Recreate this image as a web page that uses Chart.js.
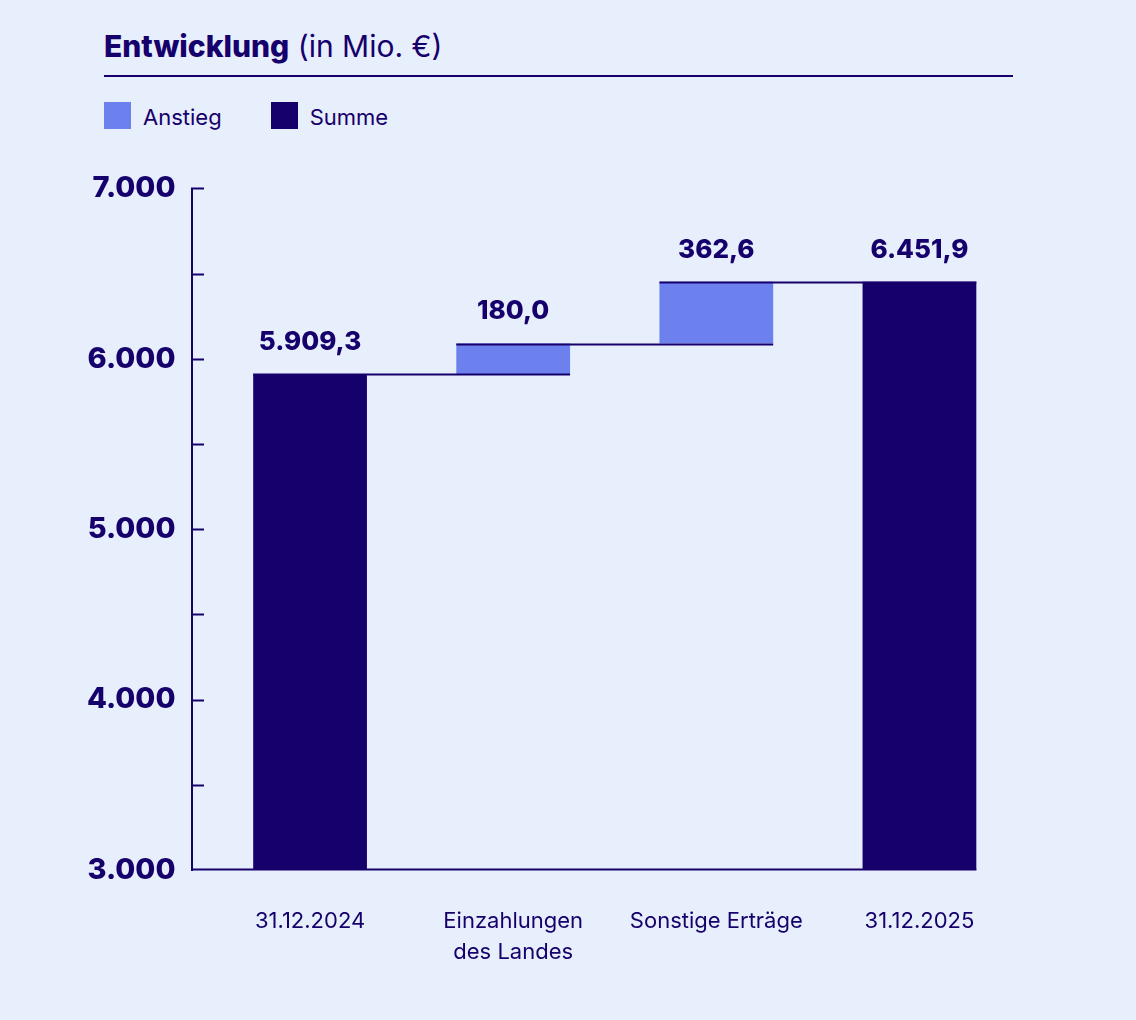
<!DOCTYPE html>
<html lang="de">
<head>
<meta charset="utf-8">
<title>Entwicklung (in Mio. €)</title>
<script src="https://cdn.jsdelivr.net/npm/chart.js@4.4.1/dist/chart.umd.min.js"></script>
<style>
  html, body { margin: 0; padding: 0; }
  body {
    width: 1136px; height: 1020px; overflow: hidden; position: relative;
    background: #e7eefc; color: #16006b;
    font-family: Inter, "Noto Sans", sans-serif;
  }
  #title { position: absolute; left: 104px; top: 31px; font-size: 30px; line-height: 30px; white-space: nowrap; }
  #title b { font-weight: 800; }
  #rule { position: absolute; left: 104px; top: 75px; width: 909px; height: 2px; background: #16006b; }
  #legend { position: absolute; left: 104px; top: 102px; display: flex; }
  .item { display: flex; align-items: center; margin-right: 49px; font-size: 22px; line-height: 27px; }
  .item span.txt { position: relative; top: 2px; }
  .box { width: 27px; height: 27px; margin-right: 12px; }
  #chart { position: absolute; left: 0; top: 138px; }
</style>
</head>
<body>
<div id="title"><b>Entwicklung</b> (in Mio. €)</div>
<div id="rule"></div>
<div id="legend"></div>
<canvas id="chart" width="1136" height="882"></canvas>
<script>
// data
var categories = ['31.12.2024', ['Einzahlungen', 'des Landes'], 'Sonstige Erträge', '31.12.2025'];
var stepValues = [5909.3, 180.0, 362.6, 6451.9];
var stepKinds = ['Summe', 'Anstieg', 'Anstieg', 'Summe'];
var seriesNames = ['Anstieg', 'Summe'];
var seriesColors = ['#6c81ee', '#16006b'];
var yMin = 3000, yMax = 7000, yStep = 500;

var NAVY = '#16006b';

// floating bars for increases, plain bars for totals
var running = 0;
var anstiegData = [], summeData = [];
stepValues.forEach(function (v, i) {
    if (stepKinds[i] === 'Summe') {
        running = v;
        summeData.push(v);
        anstiegData.push(null);
    } else {
        anstiegData.push([running, running + v]);
        running = running + v;
        summeData.push(null);
    }
});

function fmt(v, dec) {
    return v.toLocaleString('de-DE', { minimumFractionDigits: dec, maximumFractionDigits: dec });
}

// legend from the series
var legendEl = document.getElementById('legend');
seriesNames.forEach(function (name, i) {
    var it = document.createElement('div');
    it.className = 'item';
    it.innerHTML = '<span class="box" style="background:' + seriesColors[i] + '"></span><span class="txt">' + name + '</span>';
    legendEl.appendChild(it);
});

// axis lines, inner ticks, connectors and value labels
var waterfallDeco = {
    id: 'waterfallDeco',
    afterDatasetsDraw: function (chart) {
        var ctx = chart.ctx;
        var y = chart.scales.y;
        var area = chart.chartArea;
        var axisX = area.left - 16.5;

        // bar geometry per index
        var bars = [];
        chart.data.datasets.forEach(function (ds, di) {
            chart.getDatasetMeta(di).data.forEach(function (el, i) {
                if (ds.data[i] === null) return;
                var p = el.getProps(['x', 'y', 'base', 'width'], true);
                bars[i] = { left: p.x - p.width / 2, right: p.x + p.width / 2, x: p.x, top: Math.min(p.y, p.base) };
            });
        });

        ctx.save();
        ctx.strokeStyle = NAVY;
        ctx.lineWidth = 2;

        // connectors
        var tot = 0;
        for (var i = 0; i < stepValues.length - 1; i++) {
            tot = stepKinds[i] === 'Summe' ? stepValues[i] : tot + stepValues[i];
            var ly = Math.round(y.getPixelForValue(tot)) + 0.5;
            ctx.beginPath();
            ctx.moveTo(bars[i].left, ly);
            ctx.lineTo(bars[i + 1].right, ly);
            ctx.stroke();
        }

        // y axis + ticks
        ctx.beginPath();
        ctx.moveTo(axisX, y.getPixelForValue(yMax) - 1);
        ctx.lineTo(axisX, area.bottom + 1);
        for (var v = yMin + yStep; v <= yMax; v += yStep) {
            var ty = Math.round(y.getPixelForValue(v)) + 0.5;
            ctx.moveTo(axisX, ty);
            ctx.lineTo(axisX + 12, ty);
        }
        // x axis
        ctx.moveTo(axisX, Math.round(area.bottom) - 0.5);
        ctx.lineTo(bars[bars.length - 1].right, Math.round(area.bottom) - 0.5);
        ctx.stroke();

        // value labels
        ctx.fillStyle = NAVY;
        ctx.font = '800 26px Inter';
        ctx.textAlign = 'center';
        ctx.textBaseline = 'middle';
        stepValues.forEach(function (v, i) {
            ctx.fillText(fmt(v, 1), bars[i].x, bars[i].top - 32);
        });
        ctx.restore();
    }
};

var ctx = document.getElementById('chart').getContext('2d');
new Chart(ctx, {
    type: 'bar',
    data: {
        labels: categories,
        datasets: [
            { label: seriesNames[0], data: anstiegData, backgroundColor: seriesColors[0] },
            { label: seriesNames[1], data: summeData, backgroundColor: seriesColors[1] }
        ]
    },
    options: {
        responsive: false,
        animation: false,
        devicePixelRatio: 1,
        layout: { padding: { top: 26, right: 115, bottom: 0, left: 0 } },
        datasets: {
            bar: { grouped: false, categoryPercentage: 1, barPercentage: 0.56, borderWidth: 0 }
        },
        plugins: {
            legend: { display: false },
            tooltip: { enabled: false }
        },
        scales: {
            x: {
                grid: { display: false, drawTicks: false },
                border: { display: false },
                ticks: { color: NAVY, padding: 35, font: { family: 'Inter', size: 22, lineHeight: 1.45 } },
                afterFit: function (s) { s.height = 150; }
            },
            y: {
                min: yMin,
                max: yMax,
                grid: { display: false, drawTicks: false },
                border: { display: false },
                ticks: {
                    stepSize: yStep,
                    color: NAVY,
                    padding: 33,
                    font: { family: 'Inter', size: 29, weight: '800' },
                    callback: function (v) { return v % 1000 === 0 ? fmt(v, 0) : ''; }
                },
                afterFit: function (s) { s.width = 208.5; }
            }
        }
    },
    plugins: [waterfallDeco]
});
</script>
</body>
</html>
